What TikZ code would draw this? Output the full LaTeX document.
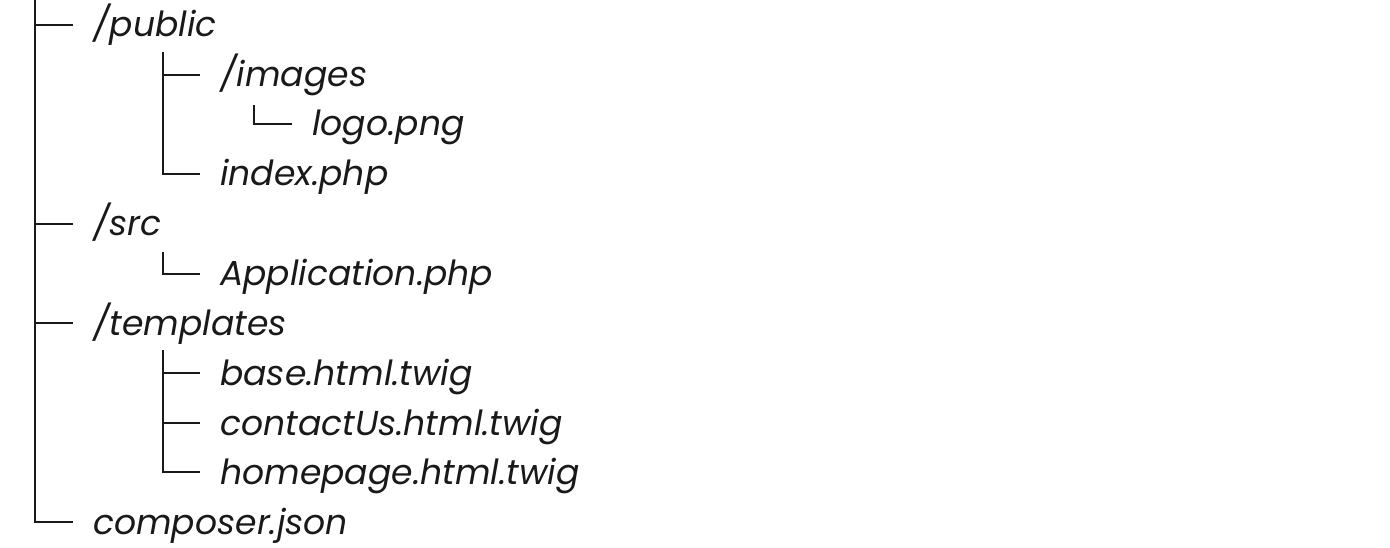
\documentclass[tikz,border=0pt]{standalone}
\usepackage{fontspec}
\setmainfont{Poppins}
\begin{document}
\begin{tikzpicture}[x=1pt,y=-1pt,
  every node/.style={anchor=west,inner sep=0pt,text height=24pt,text depth=0pt,
    font=\fontsize{34.6}{40}\selectfont\itshape,text=black!90},
  conn/.style={draw=black!90,line width=2.2pt,shorten >=20pt}]
\useasboundingbox (0,0) rectangle (1390,548);
% baselines: 37 + 49.7*k ; node center = baseline - 12
\coordinate (root) at (35,0);
\node (public) at (93,25) {/public};
\coordinate (publicdown) at (163,52);
\node (images) at (220,75) {/images};
\coordinate (imagesdown) at (254,105);
\node (logo) at (312,124) {logo.png};
\node (index) at (220,174) {index.php};
\node (src) at (93,224) {/src};
\coordinate (srcdown) at (163,252);
\node (app) at (220,274) {Application.php};
\node (templates) at (93,323) {/templates};
\coordinate (tpldown) at (163,350);
\node (base) at (220,373) {base.html.twig};
\node (contact) at (220,423) {contactUs.html.twig};
\node (home) at (220,472) {homepage.html.twig};
\node (composer) at (93,522) {composer.json};
\foreach \c in {public,src,templates,composer} \draw[conn] (root) |- (\c.west);
\foreach \c in {images,index} \draw[conn] (publicdown) |- (\c.west);
\draw[conn] (imagesdown) |- (logo.west);
\draw[conn] (srcdown) |- (app.west);
\foreach \c in {base,contact,home} \draw[conn] (tpldown) |- (\c.west);
\end{tikzpicture}
\end{document}
